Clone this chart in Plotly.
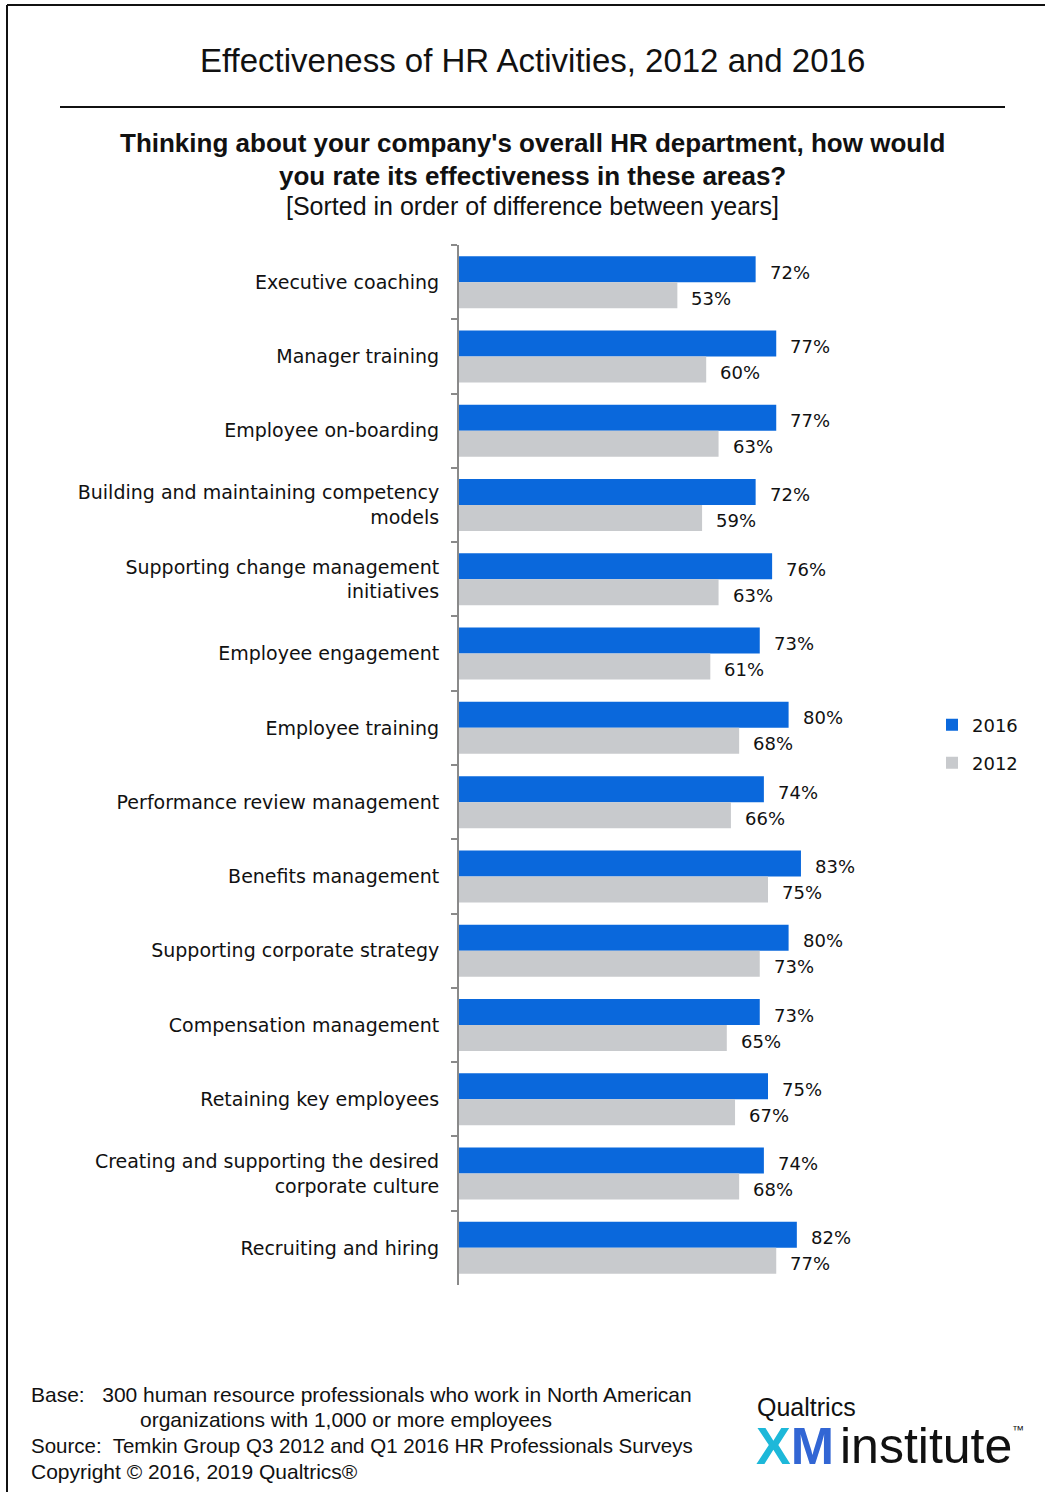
import plotly.graph_objects as go

# Survey results: share of HR professionals rating each activity as effective
categories = [
    "Executive coaching",
    "Manager training",
    "Employee on-boarding",
    "Building and maintaining competency<br>models",
    "Supporting change management<br>initiatives",
    "Employee engagement",
    "Employee training",
    "Performance review management",
    "Benefits management",
    "Supporting corporate strategy",
    "Compensation management",
    "Retaining key employees",
    "Creating and supporting the desired<br>corporate culture",
    "Recruiting and hiring",
]
values_2016 = [72, 77, 77, 72, 76, 73, 80, 74, 83, 80, 73, 75, 74, 82]
values_2012 = [53, 60, 63, 59, 63, 61, 68, 66, 75, 73, 65, 67, 68, 77]
series_names = ["2016", "2012"]

W, H = 1045, 1492
BLUE = "#0a68dc"
GREY = "#c8cacd"
AXIS = "#8a8a8a"
LABEL_FONT = "DejaVu Sans"
TEXT_FONT = "Liberation Sans"


def px(x):
    return x / W


def py(y):
    return 1 - y / H


fig = go.Figure()
fig.add_trace(go.Bar(
    y=categories, x=values_2016, name=series_names[0], orientation="h",
    marker=dict(color=BLUE, line=dict(width=0)), legend="legend",
    hoverinfo="skip",
))
fig.add_trace(go.Bar(
    y=categories, x=values_2012, name=series_names[1], orientation="h",
    marker=dict(color=GREY, line=dict(width=0)), legend="legend2",
    hoverinfo="skip",
))

annotations = []
# value labels next to each bar
for cat, v16, v12 in zip(categories, values_2016, values_2012):
    annotations.append(dict(
        x=v16, y=cat, xref="x", yref="y", text=f"{v16}%", showarrow=False,
        xanchor="left", yanchor="middle", xshift=12, yshift=10,
        font=dict(family=LABEL_FONT, size=18, color="#111"),
    ))
    annotations.append(dict(
        x=v12, y=cat, xref="x", yref="y", text=f"{v12}%", showarrow=False,
        xanchor="left", yanchor="middle", xshift=12, yshift=-16,
        font=dict(family=LABEL_FONT, size=18, color="#111"),
    ))


def note(text, x, y, size, xanchor="left", family=TEXT_FONT, color="#111"):
    annotations.append(dict(
        x=px(x), y=py(y), xref="paper", yref="paper", text=text,
        showarrow=False, xanchor=xanchor, yanchor="middle",
        font=dict(family=family, size=size, color=color),
    ))


# headings
note("Effectiveness of HR Activities, 2012 and 2016", 532, 61, 33, "center")
note("<b>Thinking about your company's overall HR department, how would</b>", 532, 143, 26, "center")
note("<b>you rate its effectiveness in these areas?</b>", 532, 176, 26, "center")
note("[Sorted in order of difference between years]", 532, 206, 25, "center")

# footer
note("Base:   300 human resource professionals who work in North American", 29, 1394, 21)
note("organizations with 1,000 or more employees", 138, 1419, 21)
note("Source:  Temkin Group Q3 2012 and Q1 2016 HR Professionals Surveys", 29, 1445, 20.5)
note("Copyright \u00a9 2016, 2019 Qualtrics\u00ae", 29, 1471, 21)

# logo
note("Qualtrics", 755, 1407, 25)
note("<b><span style='color:#1db8d9'>X</span><span style='color:#3266d4'>M</span></b>", 754, 1446, 52)
note("institute", 838, 1446, 50)
note("\u2122", 1010, 1430, 12)

shapes = [
    # outer frame (left and top edges)
    dict(type="line", xref="paper", yref="paper", x0=px(7), x1=px(7), y0=py(5), y1=0,
         line=dict(color="#111", width=2)),
    dict(type="line", xref="paper", yref="paper", x0=px(7), x1=1, y0=py(5), y1=py(5),
         line=dict(color="#111", width=2)),
    # rule under title
    dict(type="line", xref="paper", yref="paper", x0=px(60), x1=px(1005), y0=py(107), y1=py(107),
         line=dict(color="#111", width=2)),
]

fig.update_layout(
    width=W, height=H, autosize=False,
    margin=dict(l=0, r=0, t=0, b=0),
    paper_bgcolor="white", plot_bgcolor="white",
    barmode="group", bargap=0.3, bargroupgap=0,
    showlegend=True,
    legend=dict(x=px(932), y=py(725), xanchor="left", yanchor="middle",
                font=dict(family=LABEL_FONT, size=18, color="#111"),
                bgcolor="rgba(0,0,0,0)"),
    legend2=dict(x=px(932), y=py(763), xanchor="left", yanchor="middle",
                 font=dict(family=LABEL_FONT, size=18, color="#111"),
                 bgcolor="rgba(0,0,0,0)"),
    xaxis=dict(domain=[px(459), px(871)], range=[0, 100], visible=False,
               fixedrange=True),
    yaxis=dict(domain=[py(1285), py(245)], autorange="reversed",
               type="category", showline=True, linecolor=AXIS, linewidth=2,
               ticks="outside", ticklen=6, tickwidth=2, tickcolor=AXIS,
               tickson="boundaries", ticklabelstandoff=14,
               showgrid=False, zeroline=False,
               tickfont=dict(family=LABEL_FONT, size=19, color="#111")),
    annotations=annotations,
    shapes=shapes,
)

fig.write_html("out.html")
